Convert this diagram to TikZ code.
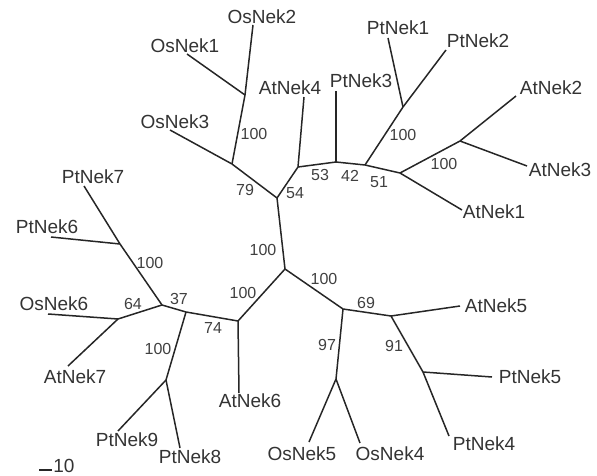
\documentclass[tikz,border=0pt]{standalone}
\usepackage{fontspec}
\setmainfont{Liberation Sans}
\begin{document}
\begin{tikzpicture}[x=1pt,y=-1pt,
  br/.style={line width=1.5pt, draw=black!85},
  lab/.style={font=\fontsize{19}{19}\selectfont, text=black!80, inner sep=0pt},
  bs/.style={font=\fontsize{16}{16}\selectfont, text=black!75, inner sep=0pt}]
\useasboundingbox (0,0) rectangle (597,476);
% internal nodes
\coordinate (R) at (285,269);
\coordinate (n54) at (277,198);
\coordinate (nA) at (232,164);
\coordinate (nB) at (245,95);
\coordinate (nC) at (298,167);
\coordinate (nD) at (336,162);
\coordinate (nE) at (365,165);
\coordinate (nF) at (403,107);
\coordinate (nG) at (400,173);
\coordinate (nH) at (460,141);
\coordinate (nI) at (238,321);
\coordinate (nJ) at (186,312);
\coordinate (nK) at (166,380);
\coordinate (nL) at (162,305);
\coordinate (nM) at (118,319);
\coordinate (nN) at (120,244);
\coordinate (nO) at (343,309);
\coordinate (nP) at (336,379);
\coordinate (nQ) at (391,316);
\coordinate (nS) at (423,372);
% leaves
\coordinate (lOs3) at (170,130);
\coordinate (lOs1) at (187,54);
\coordinate (lOs2) at (253,25);
\coordinate (lAt4) at (304,97);
\coordinate (lPt3) at (336,91);
\coordinate (lPt1) at (388,38);
\coordinate (lPt2) at (446,50);
\coordinate (lAt2) at (516,96);
\coordinate (lAt3) at (527,166);
\coordinate (lAt1) at (462,210);
\coordinate (lAt6) at (239,393);
\coordinate (lPt9) at (118,431);
\coordinate (lPt8) at (180,448);
\coordinate (lOs6) at (48,314);
\coordinate (lAt7) at (68,366);
\coordinate (lPt7) at (84,186);
\coordinate (lPt6) at (51,237);
\coordinate (lOs5) at (309,442);
\coordinate (lOs4) at (360,443);
\coordinate (lAt5) at (460,306);
\coordinate (lPt5) at (492,377);
\coordinate (lPt4) at (449,436);
\coordinate (sb1) at (39,470);
\coordinate (sb2) at (52,470);
% branches
\draw[br] (R) -- (n54);
\draw[br] (n54) -- (nA);
\draw[br] (nA) -- (lOs3);
\draw[br] (nA) -- (nB);
\draw[br] (nB) -- (lOs1);
\draw[br] (nB) -- (lOs2);
\draw[br] (n54) -- (nC);
\draw[br] (nC) -- (lAt4);
\draw[br] (nC) -- (nD);
\draw[br] (nD) -- (lPt3);
\draw[br] (nD) -- (nE);
\draw[br] (nE) -- (nF);
\draw[br] (nF) -- (lPt1);
\draw[br] (nF) -- (lPt2);
\draw[br] (nE) -- (nG);
\draw[br] (nG) -- (nH);
\draw[br] (nH) -- (lAt2);
\draw[br] (nH) -- (lAt3);
\draw[br] (nG) -- (lAt1);
\draw[br] (R) -- (nI);
\draw[br] (nI) -- (lAt6);
\draw[br] (nI) -- (nJ);
\draw[br] (nJ) -- (nK);
\draw[br] (nK) -- (lPt9);
\draw[br] (nK) -- (lPt8);
\draw[br] (nJ) -- (nL);
\draw[br] (nL) -- (nM);
\draw[br] (nM) -- (lOs6);
\draw[br] (nM) -- (lAt7);
\draw[br] (nL) -- (nN);
\draw[br] (nN) -- (lPt7);
\draw[br] (nN) -- (lPt6);
\draw[br] (R) -- (nO);
\draw[br] (nO) -- (nP);
\draw[br] (nP) -- (lOs5);
\draw[br] (nP) -- (lOs4);
\draw[br] (nO) -- (nQ);
\draw[br] (nQ) -- (lAt5);
\draw[br] (nQ) -- (nS);
\draw[br] (nS) -- (lPt5);
\draw[br] (nS) -- (lPt4);
\draw[br] (sb1) -- (sb2);
% leaf labels
\node[lab] (tOs2) at (262,17) {OsNek2};
\node[lab] (tOs1) at (185,46) {OsNek1};
\node[lab] (tOs3) at (175,122) {OsNek3};
\node[lab] (tAt4) at (290,88) {AtNek4};
\node[lab] (tPt3) at (361,81) {PtNek3};
\node[lab] (tPt1) at (398,28) {PtNek1};
\node[lab] (tPt2) at (478,41) {PtNek2};
\node[lab] (tAt2) at (551,88) {AtNek2};
\node[lab] (tAt3) at (560,170) {AtNek3};
\node[lab] (tAt1) at (494,212) {AtNek1};
\node[lab] (tPt7) at (93,177) {PtNek7};
\node[lab] (tPt6) at (47,227) {PtNek6};
\node[lab] (tOs6) at (54,304) {OsNek6};
\node[lab] (tAt7) at (75,377) {AtNek7};
\node[lab] (tPt9) at (127,440) {PtNek9};
\node[lab] (tPt8) at (190,457) {PtNek8};
\node[lab] (tAt6) at (250,401) {AtNek6};
\node[lab] (tOs5) at (302,454) {OsNek5};
\node[lab] (tOs4) at (390,454) {OsNek4};
\node[lab] (tAt5) at (496,306) {AtNek5};
\node[lab] (tPt5) at (530,377) {PtNek5};
\node[lab] (tPt4) at (484,444) {PtNek4};
\node[lab] (tsb) at (64,466) {10};
% bootstrap values
\node[bs] (b1) at (254,134) {100};
\node[bs] (b2) at (245,190) {79};
\node[bs] (b3) at (295,193) {54};
\node[bs] (b4) at (320,175) {53};
\node[bs] (b5) at (350,176) {42};
\node[bs] (b6) at (379,182) {51};
\node[bs] (b7) at (403,135) {100};
\node[bs] (b8) at (444,164) {100};
\node[bs] (b9) at (263,250) {100};
\node[bs] (b10) at (243,293) {100};
\node[bs] (b11) at (324,279) {100};
\node[bs] (b12) at (213,328) {74};
\node[bs] (b13) at (179,299) {37};
\node[bs] (b14) at (133,304) {64};
\node[bs] (b15) at (150,263) {100};
\node[bs] (b16) at (158,349) {100};
\node[bs] (b17) at (327,345) {97};
\node[bs] (b18) at (366,303) {69};
\node[bs] (b19) at (394,346) {91};
\end{tikzpicture}
\end{document}
